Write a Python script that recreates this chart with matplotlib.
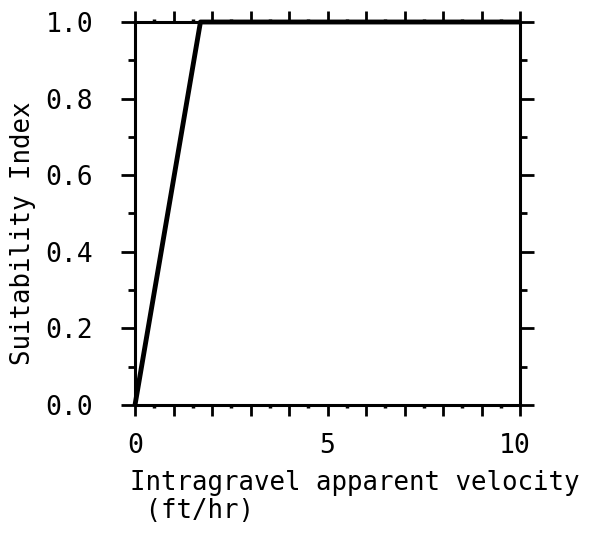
import matplotlib
matplotlib.use("Agg")
import matplotlib.pyplot as plt
import matplotlib.transforms as mtransforms
from matplotlib.ticker import MultipleLocator

# Data
velocity = [0.0, 1.7, 10.0]
suitability = [0.0, 1.0, 1.0]
x_ticklabels = ["0", "5", "10"]
x_tickvals = [0, 5, 10]
y_tickvals = [0.0, 0.2, 0.4, 0.6, 0.8, 1.0]
y_ticklabels = ["0.0", "0.2", "0.4", "0.6", "0.8", "1.0"]
xlabel = "Intragravel apparent velocity\n (ft/hr)"
ylabel = "Suitability Index"

plt.rcParams['font.family'] = ['DejaVu Sans Mono']

fig = plt.figure(figsize=(6.02, 5.36), dpi=100)
ax = fig.add_axes([135/602, 1-405/536, 385/602, 383/536])

ax.plot(velocity, suitability, color='black', lw=3.5, solid_capstyle='butt',
        clip_on=False, zorder=3)
ax.set_xlim(0, 10)
ax.set_ylim(0, 1)

for s in ax.spines.values():
    s.set_linewidth(2.2)

# x ticks: majors every 1 (labels at 0,5,10), minor dots at 0.5
ax.set_xticks(list(range(0, 11)))
ax.set_xticklabels([x_ticklabels[x_tickvals.index(v)] if v in x_tickvals else "" for v in range(0, 11)],
                   fontsize=19)
ax.xaxis.set_minor_locator(MultipleLocator(0.5))
ax.tick_params(axis='x', which='major', direction='out', length=8, width=2,
               top=True, bottom=True, pad=12)
ax.tick_params(axis='x', which='minor', direction='out', length=2.5, width=2.5,
               top=True, bottom=True)

# y ticks
ax.set_yticks(y_tickvals)
ax.set_yticklabels(y_ticklabels, fontsize=19)
ax.yaxis.set_minor_locator(MultipleLocator(0.1))
ax.tick_params(axis='y', which='major', direction='out', length=10, width=2,
               left=True, right=True, pad=20)
ax.tick_params(axis='y', which='minor', direction='out', length=5, width=2,
               left=True, right=True)

# shift the "10" label slightly left as in the reference
for lab in ax.get_xticklabels():
    if lab.get_text() == "10":
        lab.set_transform(lab.get_transform() +
                          mtransforms.ScaledTranslation(-5/100, 0, fig.dpi_scale_trans))

fig.text(130/602, 1-470/536, xlabel, fontsize=18.5, ha='left', va='top',
         linespacing=1.1)
fig.text(23/602, 1-233/536, ylabel, fontsize=18.5, rotation=90,
         ha='center', va='center')

fig.savefig("out.png", dpi=100, facecolor='white')
